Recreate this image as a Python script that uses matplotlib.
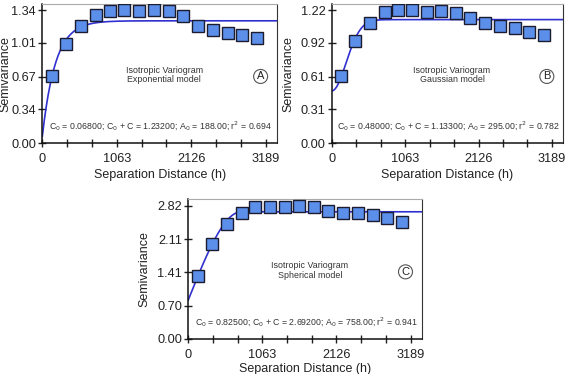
import numpy as np
import matplotlib.pyplot as plt

plt.rcParams['font.family'] = ['Liberation Sans', 'DejaVu Sans']

lag = [134, 339, 554, 769, 960, 1170, 1384, 1590, 1805, 2010, 2225, 2440, 2650, 2855, 3070]
gamma_a = [0.673, 1.00, 1.18, 1.29, 1.33, 1.34, 1.33, 1.34, 1.33, 1.28, 1.18, 1.14, 1.11, 1.09, 1.06]
gamma_b = [0.616, 0.939, 1.104, 1.199, 1.22, 1.22, 1.199, 1.208, 1.19, 1.147, 1.098, 1.074, 1.055, 1.022, 0.995]
gamma_c = [1.325, 2.016, 2.425, 2.67, 2.785, 2.785, 2.785, 2.806, 2.785, 2.714, 2.665, 2.665, 2.615, 2.566, 2.48]

# --- fitted model parameters: C0, C0+C, A0, r2 ---
params_a = (0.068, 1.232, 188.0, 0.694)
params_b = (0.48, 1.133, 295.0, 0.782)
params_c = (0.825, 2.692, 758.0, 0.941)

yticks_a = [0.00, 0.34, 0.67, 1.01, 1.34]
yticks_b = [0.00, 0.31, 0.61, 0.92, 1.22]
yticks_c = [0.00, 0.70, 1.41, 2.11, 2.82]
xtick_labels = ['0', '1063', '2126', '3189']


def exponential(h, c0, sill, a0):
    return c0 + (sill - c0) * (1 - np.exp(-h / a0))


def gaussian(h, c0, sill, a0):
    return c0 + (sill - c0) * (1 - np.exp(-(h / a0) ** 2))


def spherical(h, c0, sill, a0):
    r = np.clip(h / a0, 0, 1)
    return c0 + (sill - c0) * (1.5 * r - 0.5 * r ** 3)


fig = plt.figure(figsize=(5.67, 3.74), dpi=100)

panels = [
    ([0.0746, 0.617, 0.414, 0.372], gamma_a, params_a, exponential, yticks_a, 1.40, 'Exponential model', 'A', -0.13, 3),
    ([0.585, 0.617, 0.408, 0.372], gamma_b, params_b, gaussian, yticks_b, 1.275, 'Gaussian model', 'B', -0.16, 3),
    ([0.332, 0.0936, 0.412, 0.374], gamma_c, params_c, spherical, yticks_c, 2.96, 'Spherical model', 'C', -0.16, 1.5),
]

xt = np.linspace(0, 3189, 10)
h = np.linspace(0, 3350, 600)

for rect, g, (c0, sill, a0, r2), model, yt, ytop, name, letter, ylx, xpad in panels:
    ax = fig.add_axes(rect)
    ax.plot(h, model(h, c0, sill, a0), color='#3030d0', lw=1.2, zorder=2)
    ax.plot(lag, g, ls='none', marker='s', ms=8, mfc='#5b8fea', mec='#1c1c30', mew=1.0, zorder=3)
    ax.set_xlim(0, 3350)
    ax.set_ylim(0, ytop)
    ax.set_xticks(xt)
    ax.set_xticklabels([xtick_labels[i // 3] if i % 3 == 0 else '' for i in range(10)])
    ax.set_yticks(yt)
    ax.set_yticklabels([f'{v:.2f}' for v in yt])
    ax.tick_params(direction='inout', length=6, width=1, labelsize=9.2, colors='#222222', pad=1.5)
    ax.tick_params(axis='x', pad=4)
    for s in ['left', 'bottom']:
        ax.spines[s].set_color('#111111')
        ax.spines[s].set_linewidth(1.1)
    ax.spines['top'].set_color('#aaaaaa')
    ax.spines['right'].set_color('#333333')
    ax.set_xlabel('Separation Distance (h)', fontsize=9, color='#222222', labelpad=xpad)
    ax.set_ylabel('Semivariance', fontsize=9, color='#222222')
    ax.yaxis.set_label_coords(ylx, 0.5)
    ax.text(0.52, 0.49, 'Isotropic Variogram\n' + name, transform=ax.transAxes,
            ha='center', va='center', fontsize=6.4, color='#333333', linespacing=1.1)
    ax.text(0.93, 0.48, letter, transform=ax.transAxes, ha='center', va='center',
            fontsize=8, color='#222222',
            bbox=dict(boxstyle='circle,pad=0.18', fc='white', ec='#555555', lw=0.8))
    ax.text(0.505, 0.12,
            f'C$_0$ = {c0:.5f}; C$_0$ + C = {sill:.5f}; A$_0$ = {a0:.2f}; r$^2$ = {r2:.3f}',
            transform=ax.transAxes, ha='center', va='center', fontsize=6.3, color='#333333')

fig.savefig('out.png', dpi=100)
